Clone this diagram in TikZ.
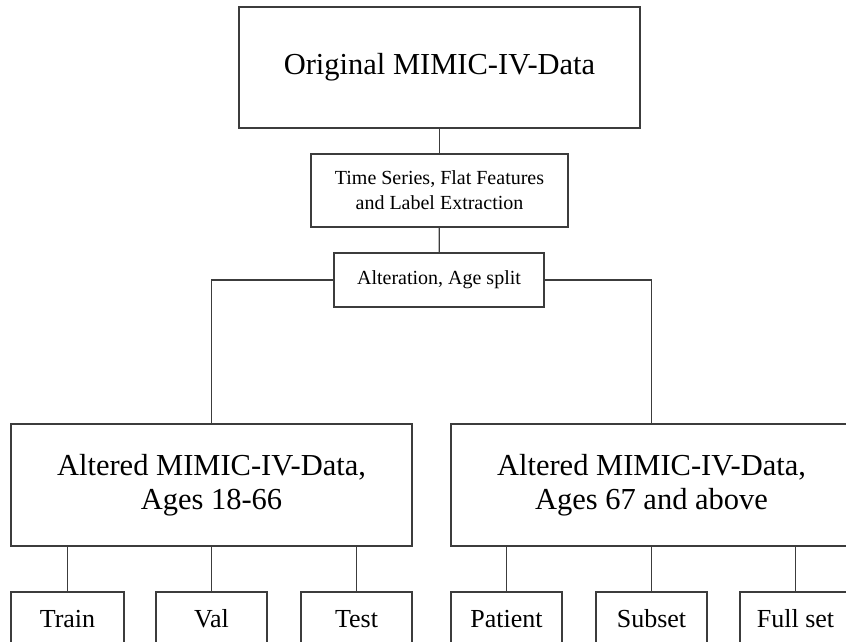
\documentclass[tikz,border=0pt]{standalone}
\usepackage{fontspec}
\setmainfont{Liberation Serif}
\definecolor{edgegrey}{RGB}{60,60,60}

\begin{document}
\begin{tikzpicture}[x=1pt, y=-1pt,
	box/.style={rectangle, draw=edgegrey, line width=1.2pt, inner sep=0pt, align=center, text=black},
	bigbox/.style={box, minimum width=401pt, font=\fontsize{30.5}{34}\selectfont},
	midbox/.style={box, font=\fontsize{20}{25}\selectfont},
	leafbox/.style={box, minimum width=111pt, minimum height=54pt, font=\fontsize{26}{30}\selectfont},
	link/.style={draw=edgegrey, line width=1.2pt}]
			\clip (0,0) rectangle (846,642);
			\node[bigbox, minimum height=121pt](orig) at (439.5,67.5){Original MIMIC-IV-Data};
			\node[midbox, minimum width=257pt, minimum height=73pt](ext) at (439.5,190.5){Time Series, Flat Features\\and Label Extraction};
			\node[midbox, minimum width=210pt, minimum height=54pt](split) at (439,280){Alteration, Age split};
			\node[bigbox, minimum height=122pt](young) at (211.5,485){Altered MIMIC-IV-Data,\\Ages 18-66};
			\node[bigbox, minimum height=122pt](old) at (651.5,485){Altered MIMIC-IV-Data,\\Ages 67 and above};
			\node[leafbox, minimum width=113pt](train) at (67.5,619){Train};
			\node[leafbox](val) at (211.5,619){Val};
			\node[leafbox](test) at (356.5,619){Test};
			\node[leafbox](patient) at (506.5,619){Patient};
			\node[leafbox](subset) at (651.5,619){Subset};
			\node[leafbox](fullset) at (795.5,619){Full set};
			\draw[link] (orig) -- (ext);
			\draw[link] (ext) -- (split);
			\draw[link] (split.west) -| (young.north);
			\draw[link] (split.east) -| (old.north);
			\foreach \leaf/\up in {train/young, val/young, test/young, patient/old, subset/old, fullset/old}
				\draw[link] (\leaf.north) -- (\leaf.north |- \up.south);
			\end{tikzpicture}
\end{document}
